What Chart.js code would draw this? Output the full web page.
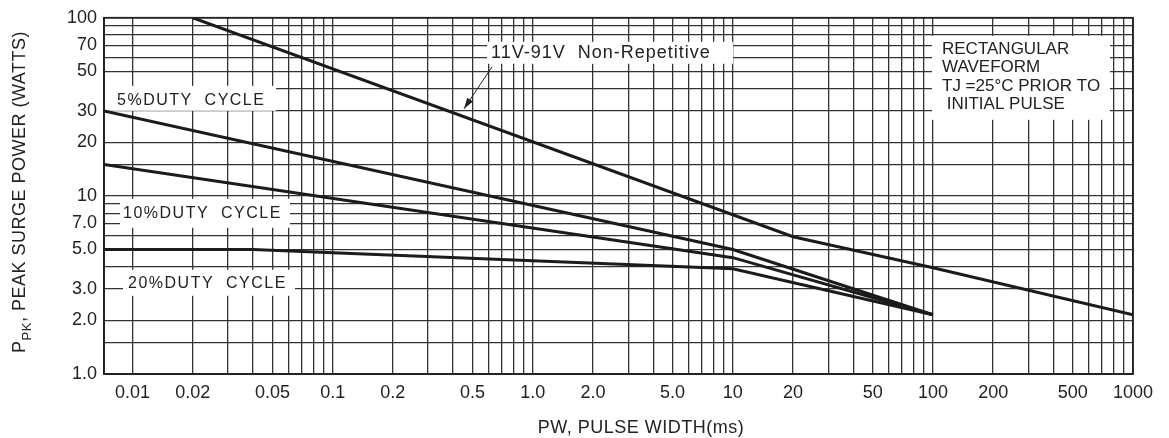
<!DOCTYPE html>
<html>
<head>
<meta charset="utf-8">
<script src="https://cdn.jsdelivr.net/npm/chart.js@4/dist/chart.umd.min.js"></script>
<style>
html, body { margin: 0; padding: 0; background: #fff; }
#wrap { width: 1169px; height: 438px; }
</style>
</head>
<body>
<div id="wrap"><canvas id="c"></canvas></div>
<script>
// pulse width (ms) / peak power (W) (corner points)
var pwNonRep = [0.02, 20, 100, 1000]
var ppkNonRep = [100, 5.9, 3.95, 2.15]

var pw5 = [0.0072, 10, 100]
var ppk5 = [30, 5.0, 2.15]
var pw10 = [0.0072, 10, 100]
var ppk10 = [15, 4.5, 2.15]
var pw20 = [0.0072, 0.04, 0.1, 10, 100]
var ppk20 = [5.0, 5.0, 4.8, 3.9, 2.15]

var xTickVals = [0.01, 0.02, 0.05, 0.1, 0.2, 0.5, 1, 2, 5, 10, 20, 50, 100, 200, 500, 1000]
var xTickText = ['0.01', '0.02', '0.05', '0.1', '0.2', '0.5', '1.0', '2.0', '5.0', '10', '20', '50', '100', '200', '500', '1000']
var yTickVals = [1, 2, 3, 5, 7, 10, 20, 30, 50, 70, 100]
var yTickText = ['1.0', '2.0', '3.0', '5.0', '7.0', '10', '20', '30', '50', '70', '100']

var xGrid = []
;[0.01, 0.1, 1, 10, 100].forEach(function (d) {
    for (var m = 1; m <= 9; m++) xGrid.push(+(m * d).toPrecision(3))
})
xGrid.push(1000)
var yGrid = [1, 1.5, 2, 3, 4, 5, 6, 7, 8, 9, 10, 15, 20, 30, 40, 50, 60, 70, 80, 90, 100]

function pts(xs, ys) {
    return xs.map(function (x, i) { return { x: x, y: ys[i] } })
}
function labelFor(vals, texts, v) {
    for (var i = 0; i < vals.length; i++) {
        if (Math.abs(vals[i] - v) / vals[i] < 1e-6) return texts[i]
    }
    return ''
}

var FONT = '"Liberation Sans", Arial, sans-serif'
var INK = '#222'

function spaced(ctx, px) {
    if ('letterSpacing' in ctx) ctx.letterSpacing = px + 'px'
}

// white label boxes on the grid, offsets from the chart area's top-left corner
var notes = {
    id: 'notes',
    beforeDatasetsDraw: function (chart) {
        var ctx = chart.ctx, a = chart.chartArea
        var boxes = [
            { dx: 1, dy: 68, w: 171, h: 25 },
            { dx: 16, dy: 181, w: 170, h: 29 },
            { dx: 19, dy: 252, w: 172, h: 26 },
            { dx: 383, dy: 24, w: 246, h: 22 },
            { dx: 828, dy: 18, w: 178, h: 84 }
        ]
        ctx.save()
        ctx.fillStyle = '#fff'
        boxes.forEach(function (b) { ctx.fillRect(a.left + b.dx, a.top + b.dy, b.w, b.h) })
        ctx.fillStyle = INK
        ctx.textBaseline = 'middle'
        ctx.textAlign = 'left'
        ctx.font = '16px ' + FONT
        spaced(ctx, 1.5)
        ctx.fillText('5%DUTY  CYCLE', a.left + 13, a.top + 82.5)
        ctx.fillText('10%DUTY  CYCLE', a.left + 19, a.top + 196)
        ctx.fillText('20%DUTY  CYCLE', a.left + 24, a.top + 266)
        ctx.font = '18px ' + FONT
        spaced(ctx, 1)
        ctx.fillText('11V-91V  Non-Repetitive', a.left + 387, a.top + 35)
        ctx.font = '17px ' + FONT
        spaced(ctx, 0)
        ctx.fillText('RECTANGULAR', a.left + 838, a.top + 32)
        ctx.fillText('WAVEFORM', a.left + 838, a.top + 50)
        ctx.fillText('TJ =25\u00B0C PRIOR TO', a.left + 838, a.top + 69)
        ctx.fillText(' INITIAL PULSE', a.left + 838, a.top + 87)
        ctx.restore()
    },
    afterDatasetsDraw: function (chart) {
        var ctx = chart.ctx, a = chart.chartArea
        ctx.save()
        // frame
        ctx.strokeStyle = '#222'
        ctx.lineWidth = 1.8
        ctx.strokeRect(a.left, a.top, a.right - a.left, a.bottom - a.top)
        // arrow from the non-repetitive label to its curve
        var x0 = a.left + 388, y0 = a.top + 49, x1 = a.left + 360, y1 = a.top + 91
        ctx.strokeStyle = '#222'
        ctx.fillStyle = '#222'
        ctx.lineWidth = 1
        ctx.beginPath(); ctx.moveTo(x0, y0); ctx.lineTo(x1, y1); ctx.stroke()
        var ang = Math.atan2(y1 - y0, x1 - x0), L = 11, W = 3.5
        ctx.beginPath()
        ctx.moveTo(x1, y1)
        ctx.lineTo(x1 - L * Math.cos(ang) + W * Math.sin(ang), y1 - L * Math.sin(ang) - W * Math.cos(ang))
        ctx.lineTo(x1 - L * Math.cos(ang) - W * Math.sin(ang), y1 - L * Math.sin(ang) + W * Math.cos(ang))
        ctx.closePath(); ctx.fill()

        // axis titles
        ctx.fillStyle = INK
        ctx.textBaseline = 'alphabetic'
        ctx.font = '18px ' + FONT
        spaced(ctx, 0.5)
        ctx.textAlign = 'center'
        ctx.fillText('PW, PULSE WIDTH(ms)', 641, 433)

        ctx.textAlign = 'left'
        var t1 = 'P', t2 = 'PK', t3 = ', PEAK SURGE POWER (WATTS)'
        var w1 = ctx.measureText(t1).width, w3 = ctx.measureText(t3).width
        ctx.font = '13px ' + FONT
        var w2 = ctx.measureText(t2).width
        var tot = w1 + w2 + w3
        ctx.translate(25, 192)
        ctx.rotate(-Math.PI / 2)
        ctx.font = '18px ' + FONT
        ctx.fillText(t1, -tot / 2, 0)
        ctx.font = '13px ' + FONT
        ctx.fillText(t2, -tot / 2 + w1, 6)
        ctx.font = '18px ' + FONT
        ctx.fillText(t3, -tot / 2 + w1 + w2, 0)
        ctx.restore()
    }
}

var line = { borderColor: '#1b1b1b', borderWidth: 3, pointRadius: 0, fill: false, tension: 0 }

new Chart(document.getElementById('c'), {
    type: 'line',
    data: {
        datasets: [
            Object.assign({ label: '11V-91V Non-Repetitive', data: pts(pwNonRep, ppkNonRep) }, line),
            Object.assign({ label: '5% duty cycle', data: pts(pw5, ppk5) }, line),
            Object.assign({ label: '10% duty cycle', data: pts(pw10, ppk10) }, line),
            Object.assign({ label: '20% duty cycle', data: pts(pw20, ppk20) }, line)
        ]
    },
    options: {
        responsive: true,
        maintainAspectRatio: false,
        animation: false,
        layout: { padding: { left: 0, top: 15, right: 36, bottom: 0 } },
        plugins: { legend: { display: false }, tooltip: { enabled: false } },
        scales: {
            x: {
                type: 'logarithmic',
                min: 0.0072,
                max: 1000,
                afterBuildTicks: function (s) { s.ticks = xGrid.map(function (v) { return { value: v } }) },
                afterFit: function (s) { s.height = 64 },
                grid: { color: '#333', lineWidth: 1.3, drawTicks: false },
                border: { display: true, color: '#222', width: 1.8 },
                ticks: {
                    autoSkip: false, maxRotation: 0, padding: 8,
                    color: INK, font: { family: FONT, size: 18 },
                    callback: function (v) { return labelFor(xTickVals, xTickText, v) }
                }
            },
            y: {
                type: 'logarithmic',
                min: 1,
                max: 100,
                afterBuildTicks: function (s) { s.ticks = yGrid.map(function (v) { return { value: v } }) },
                afterFit: function (s) { s.width = 104 },
                grid: { color: '#333', lineWidth: 1.3, drawTicks: false },
                border: { display: true, color: '#222', width: 1.8 },
                ticks: {
                    autoSkip: false, padding: 7,
                    color: INK, font: { family: FONT, size: 18 },
                    callback: function (v) { return labelFor(yTickVals, yTickText, v) }
                }
            }
        }
    },
    plugins: [notes]
})
</script>
</body>
</html>
